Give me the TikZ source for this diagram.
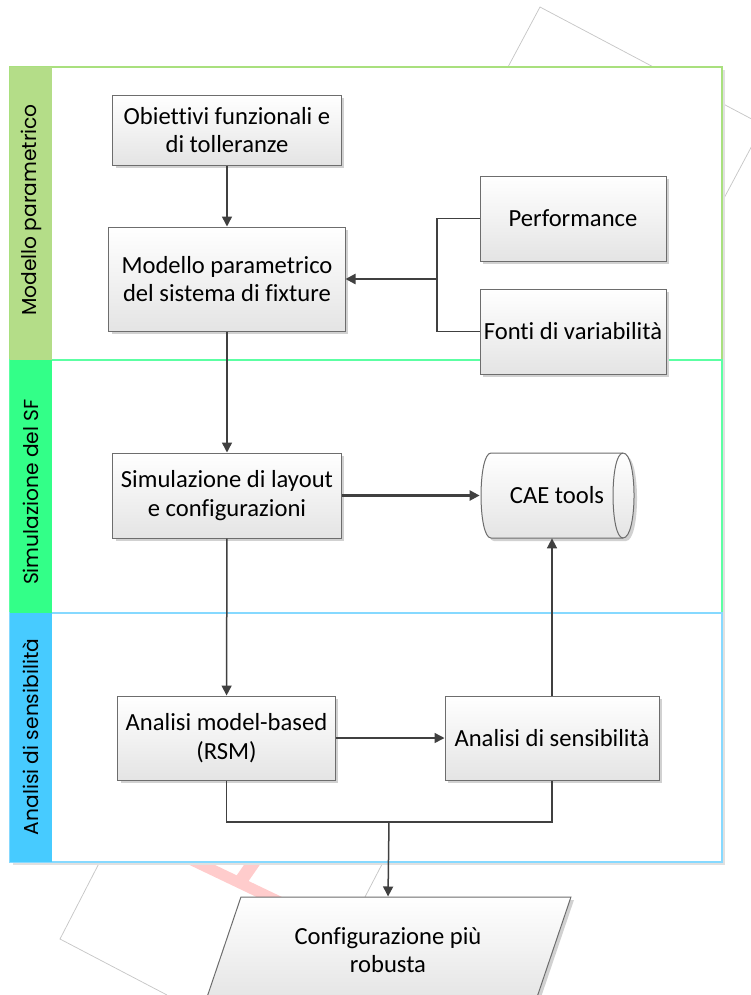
\documentclass[tikz,border=0pt]{standalone}
\usepackage{fontspec}
\setmainfont{Carlito}[Ligatures=NoCommon]
\newfontfamily\lanefont{Poppins}
\usetikzlibrary{shapes.geometric,arrows.meta,shadows}
\definecolor{boxline}{HTML}{6D6D6D}
\definecolor{boxfill}{HTML}{E4E4E4}
\definecolor{linkgray}{HTML}{404040}
\definecolor{laneA}{HTML}{B4DD88}
\definecolor{laneAline}{HTML}{A9E07E}
\definecolor{laneB}{HTML}{33FF88}
\definecolor{laneBline}{HTML}{5CFFA3}
\definecolor{laneC}{HTML}{47CBFF}
\definecolor{laneCline}{HTML}{86D9FF}
\definecolor{pinkband}{HTML}{FFCCCC}
\tikzset{
	box/.style={draw=boxline, line width=0.2mm, top color=white, bottom color=boxfill,
		drop shadow={shadow xshift=0.6mm, shadow yshift=-0.6mm, fill=black!18, opacity=1},
		align=center, font=\fontsize{14}{16.2}\selectfont, inner sep=0pt},
	link/.style={draw=linkgray, line width=0.3mm},
	arr/.style={link, -{Triangle[length=2mm,width=2mm]}},
	lanelabel/.style={rotate=90, font=\lanefont\fontsize{11.5}{14}\selectfont},
	bgline/.style={draw=black!22, line width=0.15mm},
}
\begin{document}
\begin{tikzpicture}[x=0.2mm, y=-0.2mm]
	\useasboundingbox (0,0) rectangle (751,995);
	\draw[bgline] (500,82) -- (540,7) -- (763,125) -- (715,215);
	\draw[bgline] (110,842) -- (60,939) -- (167,995);
	\draw[bgline] (392,845) -- (340,945);
	\draw[pinkband, line width=2.2mm] (150,840) -- (330,926);
	\draw[pinkband, line width=2.6mm] (265,846) -- (240,882);
	\fill[black!12] (13,70) rectangle (725,865);
	\filldraw[fill=white, draw=laneAline, line width=0.3mm] (10,67) rectangle (722,360);
	\filldraw[fill=white, draw=laneBline, line width=0.3mm] (10,360) rectangle (722,613);
	\filldraw[fill=white, draw=laneCline, line width=0.3mm] (10,613) rectangle (722,862);
	\fill[laneA] (10,67) rectangle (52,360);
	\fill[laneB] (10,360) rectangle (52,613);
	\fill[laneC] (10,613) rectangle (52,862);
	\node[lanelabel] (labA) at (31,210) {Modello parametrico};
	\node[lanelabel] (labB) at (31,492) {Simulazione del SF};
	\node[lanelabel] (labC) at (31,737) {Analisi di sensibilità};

	\node[box, minimum width=45.6mm, minimum height=14mm] (obj) at (227,130) {Obiettivi funzionali e\\di tolleranze};
	\node[box, minimum width=47.2mm, minimum height=20.8mm] (mod) at (227,279) {Modello parametrico\\del sistema di fixture};
	\node[box, minimum width=37.2mm, minimum height=17mm] (perf) at (573,218.5) {Performance};
	\node[box, minimum width=37.2mm, minimum height=17mm] (fonti) at (573,331.5) {Fonti di variabilità};
	\node[box, minimum width=45.6mm, minimum height=17mm] (sim) at (227,495.5) {Simulazione di layout\\e configurazioni};
	\path[box] (491,453) -- (623,453) .. controls (637.7,453) and (637.7,538) .. (623,538)
		-- (491,538) .. controls (477.7,538) and (477.7,453) .. (491,453) -- cycle;
	\draw[boxline, line width=0.2mm] (623,453) .. controls (609.7,453) and (609.7,538) .. (623,538);
	\node[align=center, font=\fontsize{14}{16.2}\selectfont, inner sep=0pt, minimum width=30.8mm, minimum height=17mm] (cae) at (557,495.5) {CAE tools};
	\node[box, minimum width=43.4mm, minimum height=16.8mm] (rsm) at (226.5,738) {Analisi model-based\\(RSM)};
	\node[box, minimum width=42.8mm, minimum height=16.8mm] (sens) at (552,738) {Analisi di sensibilità};
	\node[box, shape=trapezium, trapezium left angle=63.4, trapezium right angle=116.6, trapezium stretches=true,
		minimum width=73.2mm, minimum height=21.2mm] (conf) at (388,950) {Configurazione più\\robusta};

	\coordinate (junc) at (437,279);
	\coordinate (mrg) at (389,822);
	\draw[arr] (obj) -- (mod);
	\draw[link] (perf.west) -| (junc) |- (fonti.west);
	\draw[arr, line width=0.45mm] (junc) -- (mod.east);
	\draw[arr] (mod) -- (sim);
	\draw[arr, line width=0.45mm] (sim) -- (cae);
	\draw[arr] (sim) -- (rsm);
	\draw[arr] (rsm) -- (sens);
	\draw[arr] (sens.north) -- (sens.north |- cae.south);
	\draw[link] (rsm.south) |- (mrg) -| (sens.south);
	\draw[arr] (mrg) -- (conf.north);
\end{tikzpicture}
\end{document}
